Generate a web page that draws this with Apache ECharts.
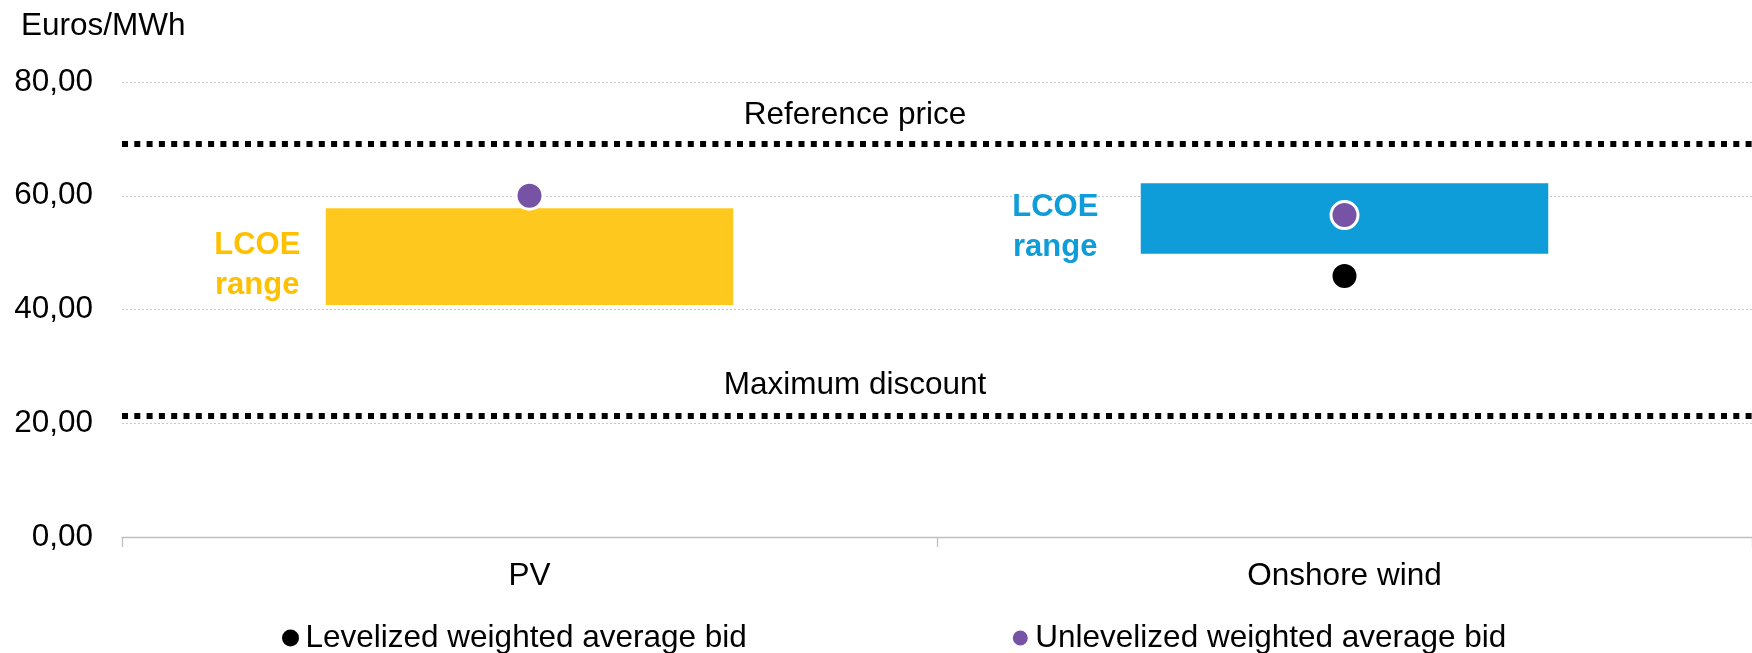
<!DOCTYPE html>
<html>
<head>
<meta charset="utf-8">
<title>LCOE range and weighted average bids</title>
<script src="https://cdn.jsdelivr.net/npm/echarts@6/dist/echarts.min.js"></script>
<style>
  html, body { margin: 0; padding: 0; background: #ffffff; }
  #chart { width: 1752px; height: 653px; }
</style>
</head>
<body>
<div id="chart"></div>
<script>
// ---- Data (Euros/MWh) ----
const categories = ['PV', 'Onshore wind'];
const lcoeLow = [40.8, 49.8];
const lcoeHigh = [57.8, 62.2];
const levelizedBid = [null, 45.9];
const unlevelizedBid = [60.0, 56.6];
const referencePrice = 69.2;
const maximumDiscount = 21.4;
const yTickValues = [0, 20, 40, 60, 80];

// ---- Styling ----
const FONT = "'Liberation Sans', Arial, Helvetica, sans-serif";
const FS = 31.5;
const rangeColors = ['#FEC81E', '#0F9DD9'];
const rangeTextColors = ['#FFC000', '#0E9DD8'];
const rangeLabelDx = [68.5, 85.5];   // label centre, measured left from the bar's left edge
const rangeLabelDy = [8.5, 9];       // label centre, measured down from the bar's middle
const BAR_RATIO = 0.5;               // bar width as a share of the category band

const chart = echarts.init(document.getElementById('chart'), null, { renderer: 'canvas' });

const rangeData = categories.map((c, i) => [i, lcoeLow[i], lcoeHigh[i]]);

function renderRange(params, api) {
  const i = api.value(0);
  const lo = api.coord([i, api.value(1)]);
  const hi = api.coord([i, api.value(2)]);
  const w = api.size([1, 0])[0] * BAR_RATIO;
  const left = lo[0] - w / 2;
  return {
    type: 'group',
    children: [
      {
        type: 'rect',
        shape: { x: left, y: hi[1], width: w, height: lo[1] - hi[1] },
        style: { fill: rangeColors[i] }
      },
      {
        type: 'text',
        x: left - rangeLabelDx[i],
        y: (hi[1] + lo[1]) / 2 + rangeLabelDy[i],
        style: {
          text: 'LCOE\nrange',
          fill: rangeTextColors[i],
          font: 'bold 31px ' + FONT,
          align: 'center',
          verticalAlign: 'middle',
          lineHeight: 40
        }
      }
    ]
  };
}

const option = {
  animation: false,
  backgroundColor: '#ffffff',
  title: {
    text: 'Euros/MWh',
    left: 21,
    top: 10,
    padding: 0,
    textStyle: { fontFamily: FONT, fontSize: FS, fontWeight: 'normal', color: '#000' }
  },
  grid: { left: 122, right: -6, top: 82, bottom: 116 },
  legend: {
    left: 277,
    top: 617,
    itemWidth: 20,
    itemHeight: 17,
    itemGap: 264,
    icon: 'circle',
    textStyle: { fontFamily: FONT, fontSize: FS, color: '#000' },
    data: [
      { name: 'Levelized weighted average bid', itemStyle: { borderWidth: 0 } },
      { name: 'Unlevelized weighted average bid', itemStyle: { borderColor: '#fff', borderWidth: 2 } }
    ]
  },
  xAxis: {
    type: 'category',
    data: categories,
    axisLine: { lineStyle: { color: '#bfbfbf', width: 1.3 } },
    axisTick: { show: true, length: 10, lineStyle: { color: '#bfbfbf', width: 1.3 } },
    axisLabel: { fontFamily: FONT, fontSize: FS, color: '#000', margin: 23 },
    splitLine: { show: false }
  },
  yAxis: {
    type: 'value',
    min: yTickValues[0],
    max: yTickValues[yTickValues.length - 1],
    interval: yTickValues[1] - yTickValues[0],
    axisLine: { show: false },
    axisTick: { show: false },
    axisLabel: {
      fontFamily: FONT, fontSize: FS, color: '#000', margin: 29,
      formatter: v => v.toFixed(2).replace('.', ',')
    },
    splitLine: { lineStyle: { color: '#c8c8c8', width: 1, type: [2, 2] } }
  },
  series: [
    {
      type: 'custom',
      name: 'LCOE range',
      renderItem: renderRange,
      data: rangeData,
      encode: { x: 0, y: [1, 2] },
      z: 2,
      silent: true,
      markLine: {
        silent: true,
        symbol: 'none',
        lineStyle: { color: '#000', width: 6, type: [6, 6.3], cap: 'butt' },
        label: {
          position: 'insideMiddleTop',
          distance: 14,
          offset: [-82, 0],
          fontFamily: FONT,
          fontSize: FS,
          color: '#000'
        },
        data: [
          { yAxis: referencePrice, label: { formatter: 'Reference price', distance: 12 } },
          { yAxis: maximumDiscount, label: { formatter: 'Maximum discount' } }
        ]
      }
    },
    {
      type: 'scatter',
      name: 'Levelized weighted average bid',
      data: levelizedBid,
      symbol: 'circle',
      symbolSize: 27,
      itemStyle: { color: '#000000', borderColor: '#ffffff', borderWidth: 3, opacity: 1 },
      z: 4
    },
    {
      type: 'scatter',
      name: 'Unlevelized weighted average bid',
      data: unlevelizedBid,
      symbol: 'circle',
      symbolSize: 27,
      itemStyle: { color: '#7653A4', borderColor: '#ffffff', borderWidth: 3, opacity: 1 },
      z: 4
    }
  ]
};

chart.setOption(option);
</script>
</body>
</html>
